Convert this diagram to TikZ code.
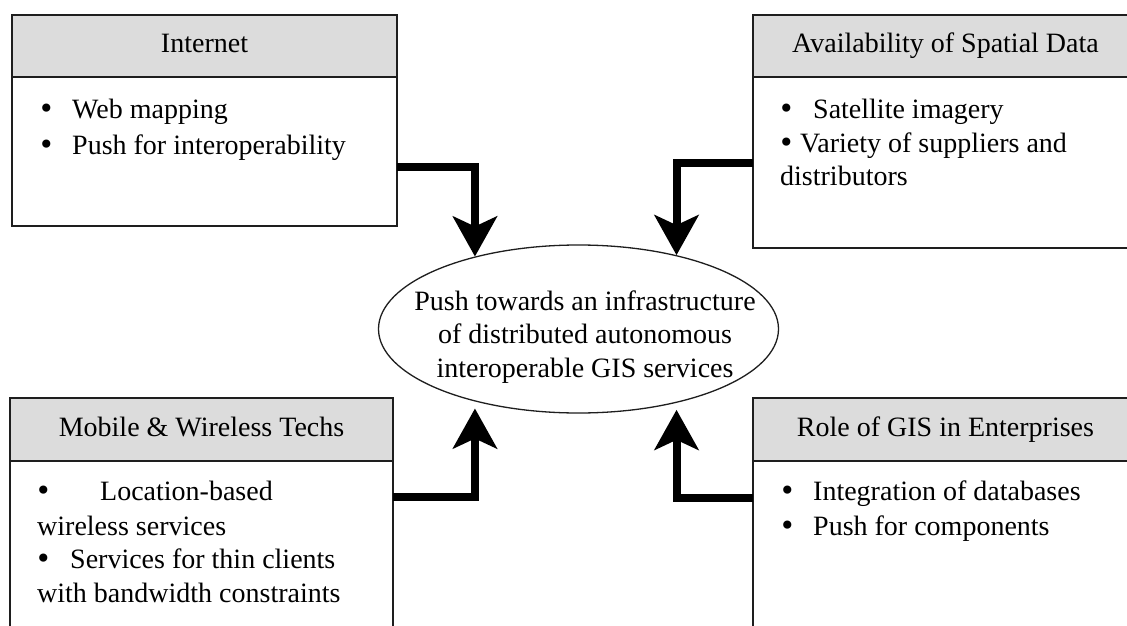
\documentclass[tikz,border=0pt]{standalone}
\usepackage{fontspec}
\setmainfont{Liberation Serif}
\newfontfamily\bulfont{DejaVu Sans}
\usetikzlibrary{arrows.meta,shapes.geometric}
\definecolor{hdrgray}{HTML}{DCDCDC}
\definecolor{edge}{HTML}{1E1E1E}
\newcommand\blt[1]{\makebox[#1][l]{\bulfont •}}
\begin{document}
\begin{tikzpicture}[x=1pt,y=-1pt,
  font=\fontsize{28}{34}\selectfont,
  boxpart/.style={draw=edge, line width=1.3pt, rectangle, inner sep=0pt, outer sep=0pt},
  hdr/.style={boxpart, fill=hdrgray, text height=19pt, text depth=6pt},
  bodybox/.style={boxpart, fill=white},
  txtline/.style={anchor=base west, inner sep=0pt},
  ctrline/.style={anchor=base, inner sep=0pt},
  push/.style={line width=8pt, -{Stealth[length=40pt,width=44pt,inset=10pt]}},
]
\useasboundingbox (0,0) rectangle (1127,626);
\fill[white] (0,0) rectangle (1127,626);
\clip (0,0) rectangle (1127,626);

% Internet
\node[bodybox, minimum width=385pt, minimum height=149pt] (intbody) at (204.5,151.5) {};
\node[hdr, minimum width=385pt, minimum height=62pt] (inthead) at (204.5,46) {Internet};
% Availability of Spatial Data
\node[bodybox, minimum width=385pt, minimum height=171pt] (avbody) at (945.5,162.5) {};
\node[hdr, minimum width=385pt, minimum height=62pt] (avhead) at (945.5,46) {Availability of Spatial Data};
% Mobile & Wireless Techs
\node[bodybox, minimum width=383pt, minimum height=179pt] (mobbody) at (201.5,550.5) {};
\node[hdr, minimum width=383pt, minimum height=63pt] (mobhead) at (201.5,429.5) {Mobile \& Wireless Techs};
% Role of GIS in Enterprises
\node[bodybox, minimum width=385pt, minimum height=179pt] (rolebody) at (945.5,550.5) {};
\node[hdr, minimum width=385pt, minimum height=63pt] (rolehead) at (945.5,429.5) {Role of GIS in Enterprises};

% centre ellipse
\node[draw=edge, line width=1.3pt, ellipse, minimum width=400pt, minimum height=168pt, inner sep=0pt] (ell) at (578.5,329) {};
\node[ctrline] (e1) at (585,310) {Push towards an infrastructure};
\node[ctrline] (e2) at (585,343.5) {of distributed autonomous};
\node[ctrline] (e3) at (585,377) {interoperable GIS services};

% body texts
\node[txtline] (i1) at (38,118) {\blt{34pt}Web mapping};
\node[txtline] (i2) at (38,154) {\blt{34pt}Push for interoperability};
\node[txtline] (a1) at (778,118) {\blt{35pt}Satellite imagery};
\node[txtline] (a2) at (778,152) {\blt{22pt}Variety of suppliers and};
\node[txtline] (a3) at (780,185) {distributors};
\node[txtline] (m1) at (35,500) {\blt{65pt}Location-based};
\node[txtline] (m2) at (37,535) {wireless services};
\node[txtline] (m3) at (35,568) {\blt{35pt}Services for thin clients};
\node[txtline] (m4) at (37,602) {with bandwidth constraints};
\node[txtline] (r1) at (779,500) {\blt{34pt}Integration of databases};
\node[txtline] (r2) at (779,535) {\blt{34pt}Push for components};

% arrows
\draw[push] ([yshift=-15.5pt]intbody.east) -| (ell.145);
\draw[push] (avbody.west) -| (ell.37);
\draw[push, shorten >=7pt] ([yshift=53.5pt]mobbody.east) -| (ell.215);
\draw[push, shorten >=7pt] ([yshift=52.5pt]rolebody.west) -| (ell.323);
\end{tikzpicture}
\end{document}
